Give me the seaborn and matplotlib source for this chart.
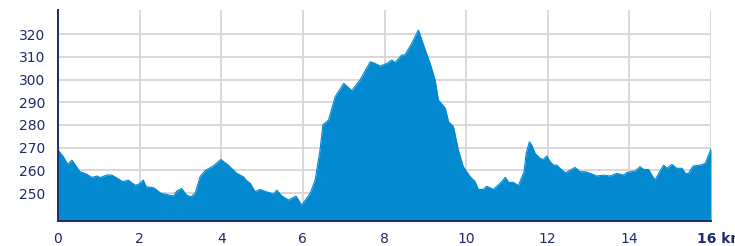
import matplotlib
matplotlib.use("Agg")
import matplotlib.pyplot as plt
import pandas as pd
import seaborn as sns
import numpy as np

# elevation profile
distance_km = [0.00, 0.13, 0.24, 0.34, 0.54, 0.69, 0.83, 0.96, 1.03, 1.21, 1.32, 1.48, 1.59, 1.72,
               1.89, 1.97, 2.09, 2.16, 2.35, 2.52, 2.66, 2.83, 2.91, 3.03, 3.15, 3.26, 3.36, 3.48,
               3.60, 3.81, 3.99, 4.17, 4.38, 4.54, 4.62, 4.71, 4.83, 4.95, 5.15, 5.28, 5.36, 5.48,
               5.65, 5.83, 5.97, 6.18, 6.30, 6.42, 6.49, 6.63, 6.79, 7.00, 7.20, 7.40, 7.65, 7.77,
               7.89, 8.06, 8.18, 8.26, 8.42, 8.50, 8.67, 8.83, 9.00, 9.12, 9.24, 9.32, 9.49, 9.57,
               9.69, 9.81, 9.93, 10.10, 10.22, 10.30, 10.42, 10.50, 10.67, 10.83, 10.96, 11.04,
               11.16, 11.28, 11.42, 11.47, 11.55, 11.61, 11.69, 11.81, 11.89, 11.98, 12.06, 12.14,
               12.22, 12.30, 12.43, 12.55, 12.67, 12.79, 12.92, 13.04, 13.20, 13.36, 13.53, 13.69,
               13.86, 13.94, 14.14, 14.26, 14.35, 14.47, 14.55, 14.63, 14.74, 14.84, 14.92, 15.04,
               15.16, 15.29, 15.37, 15.45, 15.56, 15.74, 15.86, 16.00]
elevation_m = [269.0, 266.0, 262.6, 264.5, 259.4, 258.4, 256.9, 257.5, 256.8, 258.0, 257.9, 256.2,
               255.0, 255.7, 253.5, 253.8, 255.7, 252.8, 252.3, 249.9, 249.4, 248.7, 250.9, 252.0,
               249.1, 248.4, 249.9, 257.2, 259.8, 262.0, 264.8, 262.3, 258.7, 257.2, 255.5, 254.3,
               250.6, 251.6, 250.3, 249.6, 251.3, 248.8, 246.9, 248.7, 244.7, 249.9, 255.7, 268.9,
               280.0, 282.2, 292.4, 298.3, 295.1, 299.8, 307.8, 307.1, 305.9, 307.1, 308.6, 307.4,
               310.8, 310.8, 316.0, 321.8, 313.0, 307.0, 299.8, 291.0, 287.3, 281.4, 279.2, 268.9,
               261.6, 257.2, 255.0, 251.6, 251.6, 253.0, 251.6, 254.3, 256.9, 254.7, 254.7, 253.3,
               259.4, 267.5, 272.6, 271.1, 267.5, 265.3, 264.8, 266.3, 263.8, 262.3, 262.3, 260.9,
               258.9, 260.1, 261.3, 259.4, 259.4, 258.7, 257.5, 257.9, 257.5, 258.7, 257.9, 259.1,
               259.7, 261.6, 260.4, 260.4, 257.9, 255.7, 259.4, 262.3, 260.9, 262.6, 260.9, 260.9,
               258.7, 258.7, 261.9, 262.3, 263.1, 269.5]
x_ticks = [0, 2, 4, 6, 8, 10, 12, 14, 16]
x_labels = ["0", "2", "4", "6", "8", "10", "12", "14", ""]
y_ticks = [250, 260, 270, 280, 290, 300, 310, 320]

df = pd.DataFrame({"km": distance_km, "elev": elevation_m})

sns.set_style("white")
plt.rcParams["font.family"] = ["DejaVu Sans"]
navy = "#1c2a6e"
blue = "#0389cf"

fig = plt.figure(figsize=(7.35, 2.46), dpi=100)
ax = fig.add_axes([58 / 735, 1 - 221 / 246, (711 - 58) / 735, (221 - 10) / 246])

ymin, ymax = 237.7, 330.6
ax.fill_between(df["km"], df["elev"], ymin, color=blue, linewidth=0, zorder=2)
sns.lineplot(data=df, x="km", y="elev", ax=ax, color=blue, linewidth=0.8, zorder=3)

ax.set_xlim(0, 16)
ax.set_ylim(ymin, ymax)
ax.set_xticks(x_ticks)
ax.set_xticklabels(x_labels)
ax.set_yticks(y_ticks)
ax.set_xlabel("")
ax.set_ylabel("")
ax.grid(True, color="#d6d6d6", linewidth=1.3, zorder=1)
ax.set_axisbelow(True)
ax.tick_params(axis="both", length=0, labelsize=10, labelcolor=navy)
ax.tick_params(axis="x", pad=8)
ax.tick_params(axis="y", pad=9)

for s in ["top", "right"]:
    ax.spines[s].set_visible(False)
for s in ["left", "bottom"]:
    ax.spines[s].set_color(navy)
    ax.spines[s].set_linewidth(1.4)
    ax.spines[s].set_zorder(4)

ax.annotate("16 km", xy=(16, 0), xycoords=("data", "axes fraction"),
            xytext=(-14, -11), textcoords="offset pixels", ha="left", va="top",
            fontsize=10, fontweight="bold", color=navy, annotation_clip=False)

fig.savefig("out.png", dpi=100)
